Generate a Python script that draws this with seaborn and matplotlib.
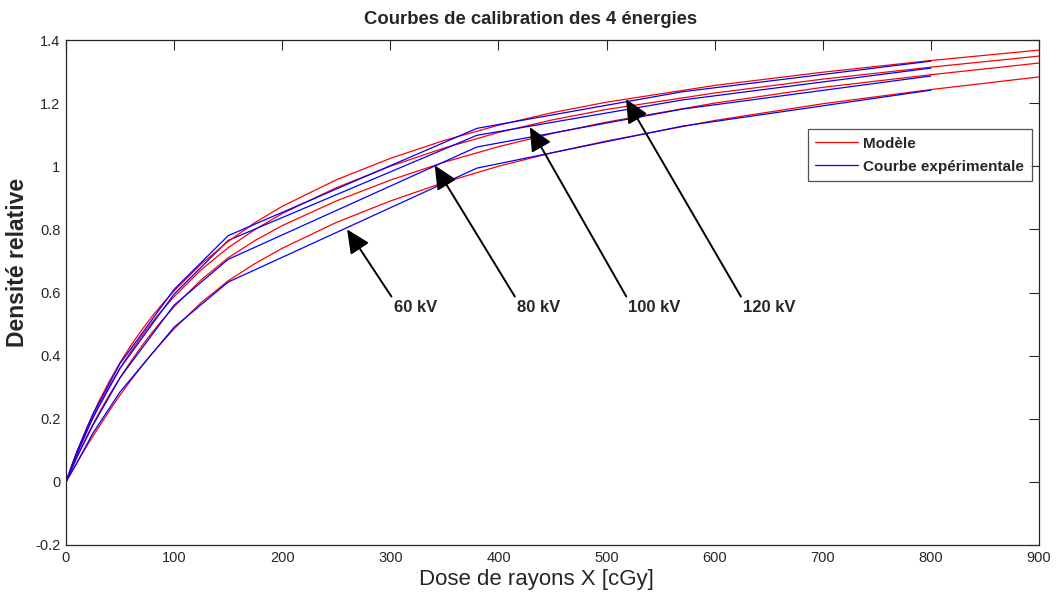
import matplotlib
matplotlib.use("Agg")
import matplotlib.pyplot as plt
import seaborn as sns
from matplotlib.lines import Line2D

# ---- data ----
energies = ["60 kV", "80 kV", "100 kV", "120 kV"]

# model curves (red)
model_dose = [0, 5, 10, 20, 30, 40, 50, 60, 70, 80, 90, 100, 125, 150, 175, 200,
              250, 300, 350, 400, 450, 500, 600, 700, 800, 900]
model_60 = [0, 0.03, 0.06, 0.118, 0.172, 0.225, 0.275, 0.322, 0.366, 0.408, 0.447, 0.485,
            0.568, 0.637, 0.692, 0.740, 0.822, 0.890, 0.949, 1.000, 1.043, 1.080,
            1.145, 1.198, 1.243, 1.283]
model_80 = [0, 0.04, 0.078, 0.15, 0.215, 0.275, 0.33, 0.382, 0.43, 0.475, 0.516, 0.555,
            0.64, 0.71, 0.765, 0.812, 0.89, 0.956, 1.013, 1.062, 1.104, 1.14,
            1.20, 1.25, 1.29, 1.327]
model_100 = [0, 0.045, 0.088, 0.167, 0.238, 0.302, 0.36, 0.413, 0.462, 0.507, 0.548, 0.587,
             0.672, 0.742, 0.80, 0.85, 0.932, 1.0, 1.058, 1.107, 1.147, 1.18,
             1.232, 1.276, 1.314, 1.349]
model_120 = [0, 0.05, 0.095, 0.178, 0.252, 0.318, 0.378, 0.432, 0.481, 0.526, 0.567, 0.605,
             0.69, 0.762, 0.822, 0.873, 0.957, 1.025, 1.082, 1.13, 1.17, 1.203,
             1.256, 1.298, 1.335, 1.368]

# experimental curves (blue)
exp_dose = [0, 10, 25, 50, 100, 150, 380, 570, 800]
exp_60 = [0, 0.06, 0.155, 0.285, 0.49, 0.633, 0.994, 1.127, 1.241]
exp_80 = [0, 0.078, 0.18, 0.33, 0.56, 0.705, 1.061, 1.181, 1.286]
exp_100 = [0, 0.088, 0.205, 0.36, 0.595, 0.765, 1.098, 1.21, 1.311]
exp_120 = [0, 0.095, 0.215, 0.375, 0.61, 0.78, 1.12, 1.236, 1.333]

# arrow tips and label positions (data coordinates)
arrow_tip_x = [260, 341, 429, 518]
arrow_tip_y = [0.80, 1.003, 1.124, 1.213]
label_x = [303, 417, 520, 626]
label_y = [0.553, 0.553, 0.553, 0.553]

x_ticks = [0, 100, 200, 300, 400, 500, 600, 700, 800, 900]
y_ticks = [-0.2, 0, 0.2, 0.4, 0.6, 0.8, 1.0, 1.2, 1.4]
y_tick_labels = ["-0.2", "0", "0.2", "0.4", "0.6", "0.8", "1", "1.2", "1.4"]

# ---- plotting ----
sns.set_style("white")
plt.rcParams["font.family"] = ["Liberation Sans", "DejaVu Sans"]

fig = plt.figure(figsize=(10.59, 5.96), dpi=100)
ax = fig.add_axes([66 / 1059, 1 - 545 / 596, (1039 - 66) / 1059, (545 - 40) / 596])

models = [model_60, model_80, model_100, model_120]
exps = [exp_60, exp_80, exp_100, exp_120]
for m, e in zip(models, exps):
    sns.lineplot(x=model_dose, y=m, color="#ff0000", lw=0.9, ax=ax, sort=False, estimator=None)
    sns.lineplot(x=exp_dose, y=e, color="#0000ff", lw=0.9, ax=ax, sort=False, estimator=None)

ax.set_xlim(0, 900)
ax.set_ylim(-0.2, 1.4)
ax.set_xticks(x_ticks)
ax.set_yticks(y_ticks)
ax.set_yticklabels(y_tick_labels)
ax.tick_params(direction="in", length=7.5, width=0.8, top=True, right=True,
               labelsize=10.5, colors="#262626", pad=4)
for s in ax.spines.values():
    s.set_visible(True)
    s.set_color("#262626")
    s.set_linewidth(0.9)

ax.set_title("Courbes de calibration des 4 énergies", fontsize=13.3, fontweight="bold",
             x=0.477, pad=11.5)
ax.set_xlabel("Dose de rayons X [cGy]", fontsize=16, labelpad=2)
ax.xaxis.set_label_coords(0.484, -0.048)
ax.set_ylabel("Densité relative", fontsize=16.5, fontweight="bold", labelpad=4)
ax.yaxis.set_label_coords(-0.038, 0.56)

for name, tx, ty, lx, ly in zip(energies, arrow_tip_x, arrow_tip_y, label_x, label_y):
    ax.annotate(name, xy=(tx, ty), xytext=(lx, ly), ha="left", va="center",
                fontsize=12, fontweight="bold",
                arrowprops=dict(arrowstyle="-|>,head_length=0.9,head_width=0.42",
                                color="black", lw=1.4, mutation_scale=16,
                                relpos=(0, 1), shrinkA=0, shrinkB=0))

handles = [Line2D([0], [0], color="#ff0000", lw=0.9),
           Line2D([0], [0], color="#0000ff", lw=0.9)]
leg = ax.legend(handles, ["Modèle", "Courbe expérimentale"], loc="upper right",
                bbox_to_anchor=(0.9928, 0.8238), borderaxespad=0, frameon=True, fancybox=False,
                prop={"size": 11, "weight": "bold"}, borderpad=0.5,
                handlelength=2.8, handletextpad=0.35, labelspacing=0.6)
leg.get_frame().set_edgecolor("#262626")
leg.get_frame().set_linewidth(0.9)

fig.savefig("out.png", dpi=100)
